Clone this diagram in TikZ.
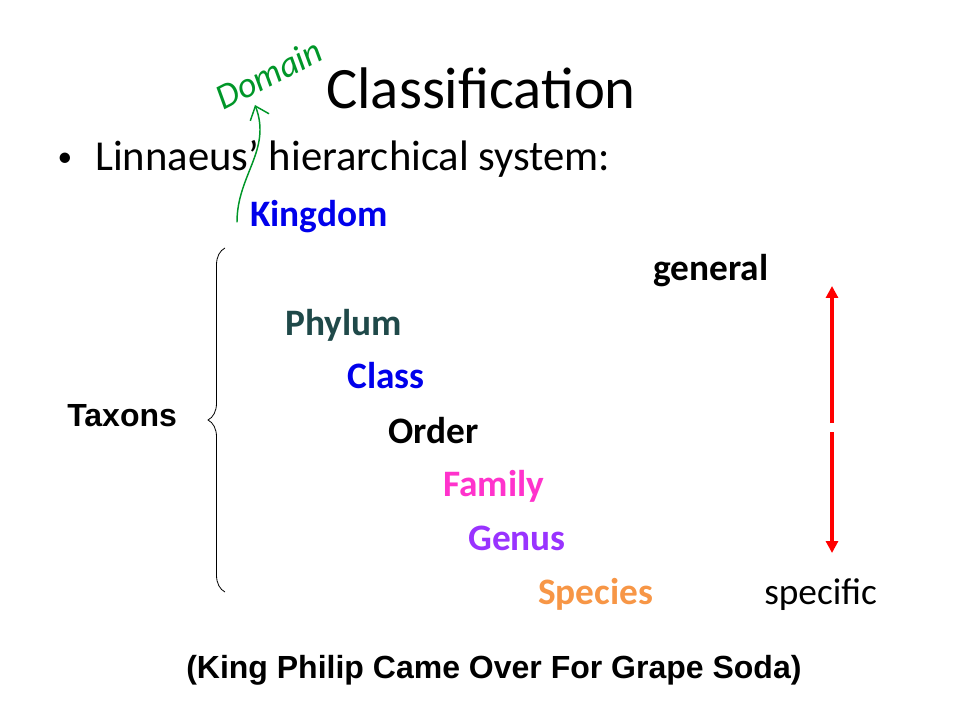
\documentclass[tikz,border=0pt]{standalone}
\usepackage{fontspec}
\setmainfont{Carlito}
\newfontfamily\arialfont{Liberation Sans}
\usepackage{tikz}
\usetikzlibrary{positioning}
\usetikzlibrary{arrows.meta}
\usetikzlibrary{decorations.pathreplacing}
\definecolor{kblue}{RGB}{0,0,235}
\definecolor{pteal}{RGB}{31,73,73}
\definecolor{fpink}{RGB}{255,51,204}
\definecolor{gpurple}{RGB}{153,51,255}
\definecolor{sorange}{RGB}{247,150,70}
\definecolor{hgreen}{RGB}{0,150,40}
\definecolor{ared}{RGB}{255,0,0}

\begin{document}
\begin{tikzpicture}[x=0.75pt, y=-0.75pt, >=latex,
rank/.style={anchor=base west, inner sep=0pt, text=#1, font=\fontsize{28}{32}\selectfont\bfseries},
plain/.style={anchor=base west, inner sep=0pt, font=\fontsize{28}{32}\selectfont},
arial/.style={anchor=base west, inner sep=0pt, font=\arialfont\bfseries\fontsize{24}{28}\selectfont},
hand/.style={hgreen, line width=1.1pt, line cap=round, line join=round},
scalearrow/.style={ared, line width=3pt, -{Triangle[length=9pt,width=9pt]}}]

\useasboundingbox (0,0) rectangle (960,720);

% title and bullet
\node [anchor=base west, inner sep=0pt, font=\fontsize{44}{50}\selectfont] (title) at (326,109) {Classification};
\node [anchor=center, inner sep=0pt, font=\fontsize{22}{26}\selectfont] (bullet) at (65,160) {\textbullet};
\node [anchor=base west, inner sep=0pt, font=\fontsize{32}{36}\selectfont] (system) at (95,171) {Linnaeus’ hierarchical system:};

% ranks
\node [rank=kblue] (kingdom) at (250,227) {Kingdom};
\node [rank=pteal] (phylum) at (285,335) {Phylum};
\node [rank=kblue] (class) at (347,388) {Class};
\node [rank=black] (order) at (388,443) {Order};
\node [rank=fpink] (family) at (443,496) {Family};
\node [rank=gpurple] (genus) at (468,550) {Genus};
\node [rank=sorange] (species) at (538,604) {Species};

\node [rank=black] (general) at (653,281) {general};
\node [plain] (specific) at (764,604) {specific};

% taxons brace
\coordinate (btop) at (225,248);
\coordinate (bbot) at (225,592);
\draw [line width=0.6pt, decorate, decoration={brace, amplitude=17pt*0.75, aspect=0.5}] (bbot) -- (btop);
\node [arial] (taxons) at (67,426) {Taxons};

% general to specific
\coordinate (upfrom) at (832,423);
\coordinate (upto) at (832,286);
\coordinate (downfrom) at (832,432);
\coordinate (downto) at (832,553);
\draw [scalearrow] (upfrom) -- (upto);
\draw [scalearrow] (downfrom) -- (downto);

% handwritten note
\node [hgreen, rotate=27, inner sep=0pt, font=\fontsize{27}{30}\selectfont\itshape] (domain) at (269,74) {Domain};
\coordinate (hook) at (237,222);
\coordinate (tip) at (255,105);
\draw [hand, -{Straight Barb[length=9pt,width=15pt]}] (hook) .. controls (237,175) and (272,150) .. (tip);

\node [arial] (mnemonic) at (186,678) {(King Philip Came Over For Grape Soda)};

\end{tikzpicture}
\end{document}
